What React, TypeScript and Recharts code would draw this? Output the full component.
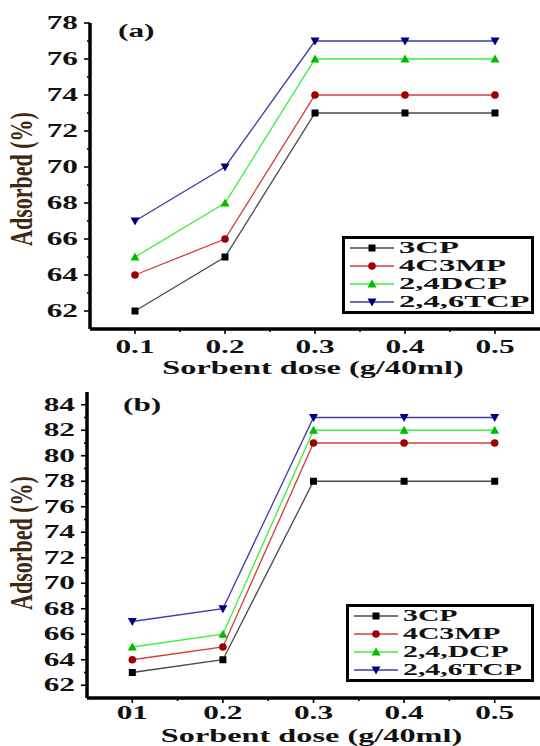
import React from 'react';
import { LineChart, Line, XAxis, YAxis, Legend, Label } from 'recharts';

// sorbent dose (g / 40 ml)
const doses = [0.1, 0.2, 0.3, 0.4, 0.5];

// panel (a)
const cp3A = [62, 65, 73, 73, 73];
const c3mpA = [64, 66, 74, 74, 74];
const dcpA = [65, 68, 76, 76, 76];
const tcpA = [67, 70, 77, 77, 77];
const namesA = ['3CP', '4C3MP', '2,4DCP', '2,4,6TCP'];
const xLabelsA = ['0.1', '0.2', '0.3', '0.4', '0.5'];
const yTicksA = [62, 63, 64, 65, 66, 67, 68, 69, 70, 71, 72, 73, 74, 75, 76, 77, 78];

// panel (b)
const cp3B = [63, 64, 78, 78, 78];
const c3mpB = [64, 65, 81, 81, 81];
const dcpB = [65, 66, 82, 82, 82];
const tcpB = [67, 68, 83, 83, 83];
const namesB = ['3CP', '4C3MP', '2,4,DCP', '2,4,6TCP'];
const xLabelsB = ['01', '0.2', '0.3', '0.4', '0.5'];
const yTicksB = [62, 63, 64, 65, 66, 67, 68, 69, 70, 71, 72, 73, 74, 75, 76, 77, 78, 79, 80, 81, 82, 83, 84];

const xTicks = [0.1, 0.15, 0.2, 0.25, 0.3, 0.35, 0.4, 0.45, 0.5];

const keys = ['s1', 's2', 's3', 's4'];
const styles = [
  { line: '#4a4a4a', mark: '#000000', kind: 'square' },
  { line: '#d83a3a', mark: '#9c0000', kind: 'circle' },
  { line: '#3cf03c', mark: '#00bb00', kind: 'up' },
  { line: '#3b3ba6', mark: '#000080', kind: 'down' },
];

const FONT = '"Liberation Serif", "Times New Roman", serif';
const STRETCH = 1.74;

const buildRows = (series: number[][]) =>
  doses.map((d, i) => {
    const row: Record<string, number> = { dose: d };
    series.forEach((s, j) => (row[keys[j]] = s[i]));
    return row;
  });

const dataA = buildRows([cp3A, c3mpA, dcpA, tcpA]);
const dataB = buildRows([cp3B, c3mpB, dcpB, tcpB]);

const Marker = ({ kind, cx, cy, color }: any) => {
  if (kind === 'square') return <rect x={cx - 3.5} y={cy - 3.5} width={7} height={7} fill={color} />;
  if (kind === 'circle') return <circle cx={cx} cy={cy} r={3.8} fill={color} />;
  if (kind === 'up')
    return <polygon points={`${cx},${cy - 4.5} ${cx + 4.5},${cy + 3.5} ${cx - 4.5},${cy + 3.5}`} fill={color} />;
  return <polygon points={`${cx},${cy + 4.5} ${cx + 4.5},${cy - 3.5} ${cx - 4.5},${cy - 3.5}`} fill={color} />;
};

const makeDot = (idx: number) => (props: any) => {
  const { cx, cy, index } = props;
  if (cx == null || cy == null) return <g key={`d${idx}-${index}`} />;
  return (
    <g key={`d${idx}-${index}`}>
      <Marker kind={styles[idx].kind} cx={cx} cy={cy} color={styles[idx].mark} />
    </g>
  );
};

const makeXTick = (labels: string[], dy: number) => (props: any) => {
  const { x, y, payload } = props;
  const v = Math.round(payload.value * 100);
  const major = v % 10 === 0;
  const axisY = y - 12;
  return (
    <g>
      <line x1={x} x2={x} y1={axisY} y2={axisY + (major ? 5 : 3)} stroke="#000" strokeWidth={1.6} />
      {major && (
        <text
          transform={`translate(${x},${axisY + dy}) scale(${STRETCH},1)`}
          textAnchor="middle"
          dominantBaseline="central"
          fontFamily={FONT}
          fontWeight="bold"
          fontSize={18}
          fill="#111"
        >
          {labels[v / 10 - 1]}
        </text>
      )}
    </g>
  );
};

const YTick = (props: any) => {
  const { x, y, payload } = props;
  const major = payload.value % 2 === 0;
  const axisX = x + 12;
  return (
    <g>
      <line x1={axisX} x2={axisX - (major ? 6 : 3)} y1={y} y2={y} stroke="#000" strokeWidth={1.6} />
      {major && (
        <text
          transform={`translate(${x},${y}) scale(${STRETCH},1)`}
          textAnchor="end"
          dominantBaseline="central"
          fontFamily={FONT}
          fontWeight="bold"
          fontSize={18}
          fill="#111"
        >
          {payload.value}
        </text>
      )}
    </g>
  );
};

const makeLegend = (names: string[], fontSize: number, stretch: number, rowH: number) => () => (
  <div
    style={{
      border: '3px solid #000',
      background: '#fff',
      boxSizing: 'border-box',
      width: '100%',
      height: '100%',
      paddingLeft: 5,
      overflow: 'hidden',
    }}
  >
    {names.map((n, i) => (
      <div key={n} style={{ display: 'flex', alignItems: 'center', height: rowH }}>
        <svg width={44} height={rowH} style={{ flex: 'none' }}>
          <line x1={0} x2={44} y1={rowH / 2} y2={rowH / 2} stroke={styles[i].line} strokeWidth={1.3} />
          <Marker kind={styles[i].kind} cx={22} cy={rowH / 2} color={styles[i].mark} />
        </svg>
        <span
          style={{
            display: 'inline-block',
            marginLeft: 5,
            fontFamily: FONT,
            fontWeight: 'bold',
            fontSize,
            lineHeight: `${rowH}px`,
            height: rowH,
            color: '#111',
            transform: `scaleX(${stretch})`,
            transformOrigin: 'left center',
            whiteSpace: 'nowrap',
          }}
        >
          {n}
        </span>
      </div>
    ))}
  </div>
);

const makeYTitle = (dy: number) => (props: any) => {
  const vb = props.viewBox || { x: 0, y: 0, width: 0, height: 0 };
  const cx = vb.x + 22;
  const cy = vb.y + vb.height / 2 + dy;
  return (
    <text
      transform={`translate(${cx},${cy}) scale(1.45,1) rotate(-90)`}
      textAnchor="middle"
      dominantBaseline="central"
      fontFamily={FONT}
      fontWeight="bold"
      fontSize={22}
      fill="#3e2812"
    >
      Adsorbed (%)
    </text>
  );
};

const makeXTitle = (dy: number) => (props: any) => {
  const vb = props.viewBox || { x: 0, y: 0, width: 0, height: 0 };
  const cx = vb.x + vb.width / 2 - 2;
  const cy = vb.y + dy;
  return (
    <text
      transform={`translate(${cx},${cy}) scale(1.7,1)`}
      textAnchor="middle"
      dominantBaseline="central"
      fontFamily={FONT}
      fontWeight="bold"
      fontSize={19}
      fill="#111"
    >
      Sorbent dose (g/40ml)
    </text>
  );
};

interface PanelProps {
  data: Record<string, number>[];
  names: string[];
  xLabels: string[];
  yTicks: number[];
  yDomain: [number, number];
  height: number;
  top: number;
  yAxisWidth: number;
  xAxisHeight: number;
  tickDy: number;
  titleDy: number;
  yTitleDy: number;
  legendBox: { left: number; top: number; width: number; height: number };
  legendFont: number;
  legendStretch: number;
  legendRow: number;
  letter: string;
  letterPos: { left: number; top: number };
}

const Panel: React.FC<PanelProps> = (p) => (
  <div style={{ position: 'absolute', left: 0, top: p.top, width: 540, height: p.height }}>
    <LineChart width={540} height={p.height} data={p.data} margin={{ top: p.height - p.xAxisHeight - 306, right: 0, left: 0, bottom: 0 }}>
      <XAxis
        dataKey="dose"
        type="number"
        domain={[0.05, 0.55]}
        ticks={xTicks}
        interval={0}
        allowDataOverflow
        height={p.xAxisHeight}
        tickSize={6}
        tickMargin={6}
        tickLine={false}
        axisLine={{ stroke: '#000', strokeWidth: 3.5 }}
        tick={makeXTick(p.xLabels, p.tickDy)}
      >
        <Label content={makeXTitle(p.titleDy)} />
      </XAxis>
      <YAxis
        type="number"
        domain={p.yDomain}
        ticks={p.yTicks}
        interval={0}
        allowDataOverflow
        width={p.yAxisWidth}
        tickSize={6}
        tickMargin={6}
        tickLine={false}
        axisLine={{ stroke: '#000', strokeWidth: 3.5 }}
        tick={YTick}
      >
        <Label content={makeYTitle(p.yTitleDy)} />
      </YAxis>
      <Legend
        layout="vertical"
        align="center"
        verticalAlign="middle"
        content={makeLegend(p.names, p.legendFont, p.legendStretch, p.legendRow)}
        wrapperStyle={{ ...p.legendBox, position: 'absolute' }}
      />
      {keys.map((k, i) => (
        <Line
          key={k}
          dataKey={k}
          name={p.names[i]}
          type="linear"
          stroke={styles[i].line}
          strokeWidth={1.3}
          dot={makeDot(i)}
          activeDot={false}
          isAnimationActive={false}
        />
      ))}
    </LineChart>
    <div
      style={{
        position: 'absolute',
        left: p.letterPos.left,
        top: p.letterPos.top,
        fontFamily: FONT,
        fontWeight: 'bold',
        fontSize: 18,
        lineHeight: '18px',
        color: '#111',
        transform: `scaleX(${STRETCH})`,
        transformOrigin: 'left center',
      }}
    >
      {p.letter}
    </div>
  </div>
);

export default function App() {
  return (
    <div style={{ position: 'absolute', left: 0, top: 0, width: 540, height: 746, background: '#fff', overflow: 'hidden' }}>
      <Panel
        data={dataA}
        names={namesA}
        xLabels={xLabelsA}
        yTicks={yTicksA}
        yDomain={[61, 78]}
        height={380}
        top={0}
        yAxisWidth={90}
        xAxisHeight={51}
        tickDy={18}
        titleDy={39}
        yTitleDy={3}
        legendBox={{ left: 342, top: 236, width: 192, height: 78 }}
        legendFont={17}
        legendStretch={1.92}
        legendRow={18}
        letter="(a)"
        letterPos={{ left: 118, top: 22 }}
      />
      <Panel
        data={dataB}
        names={namesB}
        xLabels={xLabelsB}
        yTicks={yTicksB}
        yDomain={[61, 85]}
        height={366}
        top={380}
        yAxisWidth={87}
        xAxisHeight={48}
        tickDy={15.5}
        titleDy={38}
        yTitleDy={-2}
        legendBox={{ left: 346, top: 224, width: 188, height: 78 }}
        legendFont={17}
        legendStretch={1.75}
        legendRow={18}
        letter="(b)"
        letterPos={{ left: 123, top: 16 }}
      />
    </div>
  );
}
